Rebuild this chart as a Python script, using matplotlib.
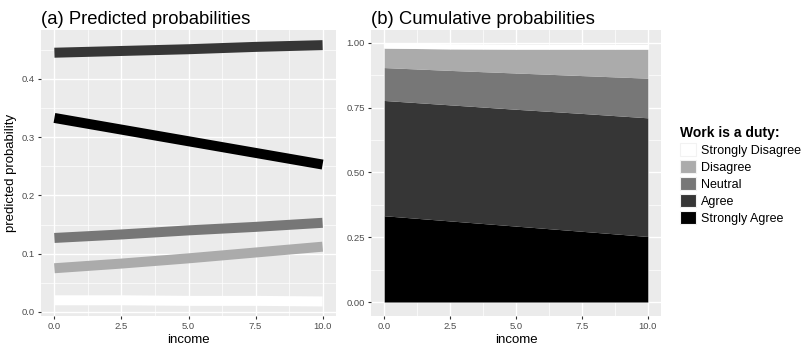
import matplotlib
matplotlib.use("Agg")
import matplotlib.pyplot as plt
import numpy as np
from matplotlib.patches import Patch
from matplotlib.ticker import MultipleLocator

plt.rcParams['font.family'] = ['Liberation Sans', 'DejaVu Sans']

# ---- data ----
income = [0.0, 2.5, 5.0, 7.5, 10.0]
categories = ["Strongly Disagree", "Disagree", "Neutral", "Agree", "Strongly Agree"]
p_strongly_disagree = [0.020, 0.020, 0.019, 0.019, 0.018]
p_disagree = [0.075, 0.083, 0.092, 0.102, 0.112]
p_neutral = [0.127, 0.133, 0.140, 0.146, 0.153]
p_agree = [0.445, 0.448, 0.451, 0.455, 0.458]
p_strongly_agree = [0.333, 0.313, 0.293, 0.273, 0.253]
colors = ["#FFFFFF", "#ABABAB", "#777777", "#363636", "#000000"]
x_ticks = [0.0, 2.5, 5.0, 7.5, 10.0]
x_ticklabels = ["0.0", "2.5", "5.0", "7.5", "10.0"]
ya_ticks = [0.0, 0.1, 0.2, 0.3, 0.4]
ya_ticklabels = ["0.0", "0.1", "0.2", "0.3", "0.4"]
yb_ticks = [0.0, 0.25, 0.5, 0.75, 1.0]
yb_ticklabels = ["0.00", "0.25", "0.50", "0.75", "1.00"]

series = [p_strongly_disagree, p_disagree, p_neutral, p_agree, p_strongly_agree]

W, H = 805, 346
fig = plt.figure(figsize=(W / 100, H / 100), dpi=100)

def ax_rect(l, r, t, b):
    return [l / W, 1 - b / H, (r - l) / W, (b - t) / H]

ax1 = fig.add_axes(ax_rect(41, 336, 30, 316))
ax2 = fig.add_axes(ax_rect(371, 661, 30, 316))

def style(ax):
    ax.set_facecolor("#EBEBEB")
    for s in ax.spines.values():
        s.set_visible(False)
    ax.grid(True, which="major", color="white", linewidth=1.0)
    ax.grid(True, which="minor", color="white", linewidth=0.5)
    ax.set_axisbelow(True)
    ax.tick_params(which="major", length=2.5, width=0.8, color="#333333",
                   labelsize=6.8, labelcolor="#4D4D4D", pad=2)
    ax.tick_params(which="minor", length=0)
    ax.set_xticks(x_ticks)
    ax.set_xticklabels(x_ticklabels)
    ax.xaxis.set_minor_locator(MultipleLocator(1.25))
    ax.set_xlim(-0.5, 10.5)
    ax.set_xlabel("income", fontsize=9.5, labelpad=2)

# panel a
style(ax1)
for vals, c in zip(series, colors):
    ax1.plot(income, vals, color=c, linewidth=7.2, solid_capstyle="butt")
ax1.set_ylim(-0.007, 0.484)
ax1.set_yticks(ya_ticks)
ax1.set_yticklabels(ya_ticklabels)
ax1.yaxis.set_minor_locator(MultipleLocator(0.05))
ax1.set_ylabel("predicted probability", fontsize=9.5, labelpad=3)
ax1.set_title("(a) Predicted probabilities", fontsize=13.3, loc="left", pad=4)

# panel b (stack from Strongly Agree at bottom up)
style(ax2)
base = np.zeros(len(income))
for vals, c in zip(series[::-1], colors[::-1]):
    top = base + np.array(vals)
    ax2.fill_between(income, base, top, color=c, linewidth=0)
    base = top
ax2.set_ylim(-0.054, 1.05)
ax2.set_yticks(yb_ticks)
ax2.set_yticklabels(yb_ticklabels)
ax2.yaxis.set_minor_locator(MultipleLocator(0.125))
ax2.set_title("(b) Cumulative probabilities", fontsize=13.3, loc="left", pad=4)

handles = [Patch(facecolor=c, edgecolor="#F2F2F2", linewidth=0.8) for c in colors]
leg = fig.legend(handles, categories, title="Work is a duty:",
                 loc="upper left", bbox_to_anchor=(675 / W, 1 - 121 / H),
                 frameon=False, fontsize=9, title_fontsize=10,
                 handlelength=1.25, handleheight=1.25, handletextpad=0.4,
                 labelspacing=0.25, borderaxespad=0)
leg.get_title().set_fontweight("bold")
leg._legend_box.align = "left"

fig.savefig("out.png", dpi=100)
